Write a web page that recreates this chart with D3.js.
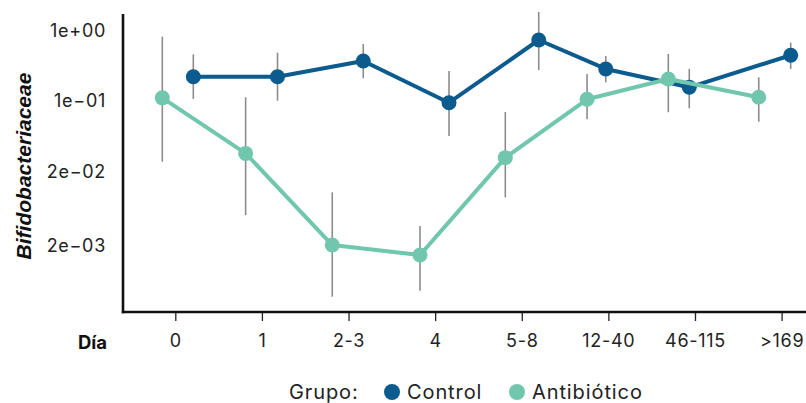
<!DOCTYPE html>
<html>
<head>
<meta charset="utf-8">
<script src="https://cdn.jsdelivr.net/npm/d3@7"></script>
<style>
  html, body { margin: 0; padding: 0; background: #fff; }
  svg { display: block; font-family: Inter, "Noto Sans", sans-serif; }
</style>
</head>
<body>
<svg id="chart" width="806" height="403"></svg>
<script>
// ---- data ----
const categories = ["0", "1", "2-3", "4", "5-8", "12-40", "46-115", ">169"];
const yTickValues = [1, 0.1, 0.02, 0.002];
const yTickLabels = ["1e+00", "1e\u221201", "2e\u221202", "2e\u221203"];

const controlMean  = [0.222, 0.222, 0.373, 0.0962, 0.744, 0.287, 0.157, 0.450];
const controlHigh  = [0.465, 0.490, 0.652, 0.268, 1.868, 0.439, 0.287, 0.681];
const controlLow   = [0.107, 0.101, 0.211, 0.0452, 0.277, 0.185, 0.0848, 0.287];
const controlJitter = [0.208, 0.18, 0.17, 0.16, 0.196, -0.03, -0.066, 0.105];

const antibMean  = [0.111, 0.0305, 0.00206, 0.00151, 0.0277, 0.1057, 0.206, 0.113];
const antibHigh  = [0.829, 0.113, 0.01063, 0.00373, 0.0779, 0.243, 0.469, 0.218];
const antibLow   = [0.02526, 0.00525, 0.000413, 0.000498, 0.0091, 0.0661, 0.0775, 0.0625];
const antibJitter = [-0.15, -0.188, -0.188, -0.175, -0.19, -0.246, -0.308, -0.264];

const groupNames = ["Control", "Antibiótico"];
const groupColors = ["#0b5b8e", "#70c7ad"];

// ---- layout ----
const svg = d3.select("#chart");
const axisLeftX = 123, axisBottomY = 312, axisTopY = 14;

const x = d3.scalePoint().domain(categories).range([175.3, 781.6]);
const step = x.step();
const y = d3.scaleLog().domain(yTickValues).range([31, 101, 172, 246]);

function series(mean, high, low, jit) {
  return categories.map((c, i) => ({
    cx: x(c) + jit[i] * step,
    m: mean[i], hi: high[i], lo: low[i]
  }));
}
const data = [
  series(controlMean, controlHigh, controlLow, controlJitter),
  series(antibMean, antibHigh, antibLow, antibJitter)
];

// x axis
const xAxis = d3.axisBottom(x).tickSize(9).tickSizeOuter(0).tickPadding(13);
const gx = svg.append("g").attr("transform", `translate(0,${axisBottomY})`).call(xAxis);
gx.select(".domain").remove();
gx.selectAll(".tick line").attr("stroke", "#222").attr("stroke-width", 1.3);
gx.selectAll(".tick text").attr("font-size", 18).attr("letter-spacing", "0.7px").attr("fill", "#222")
  .attr("font-family", "Inter, sans-serif");
svg.append("line").attr("x1", axisLeftX - 1.2).attr("x2", 806).attr("y1", axisBottomY).attr("y2", axisBottomY)
  .attr("stroke", "#111").attr("stroke-width", 2.6);

// y axis
const yAxis = d3.axisLeft(y).tickValues(yTickValues).tickSize(0).tickPadding(17)
  .tickFormat((d, i) => yTickLabels[i]);
const gy = svg.append("g").attr("transform", `translate(${axisLeftX},0)`).call(yAxis);
gy.select(".domain").remove();
gy.selectAll(".tick text").attr("font-size", 18).attr("letter-spacing", "0.7px").attr("fill", "#222")
  .attr("font-family", "Inter, sans-serif");
svg.append("line").attr("x1", axisLeftX).attr("x2", axisLeftX).attr("y1", axisTopY).attr("y2", axisBottomY + 1.3)
  .attr("stroke", "#111").attr("stroke-width", 2.6);

// axis titles
svg.append("text").attr("x", 107).attr("y", axisBottomY + 37).attr("text-anchor", "end")
  .attr("font-size", 18.5).attr("font-weight", 700).attr("fill", "#111")
  .attr("font-family", "Inter, sans-serif").text("Día");
svg.append("text").attr("transform", "translate(31,166) rotate(-90)").attr("text-anchor", "middle")
  .attr("font-size", 21).attr("font-weight", 700).attr("font-style", "italic").attr("fill", "#111")
  .attr("font-family", "'Liberation Sans', Arial, sans-serif").text("Bifidobacteriaceae");

// error bars
data.forEach((s) => {
  svg.append("g").selectAll("line").data(s).join("line")
    .attr("x1", d => d.cx).attr("x2", d => d.cx)
    .attr("y1", d => y(d.hi)).attr("y2", d => y(d.lo))
    .attr("stroke", "#8c8c8c").attr("stroke-width", 1.6);
});

// lines + points
const line = d3.line().x(d => d.cx).y(d => y(d.m));
[0, 1].forEach(gi => {
  svg.append("path").datum(data[gi]).attr("d", line)
    .attr("fill", "none").attr("stroke", groupColors[gi]).attr("stroke-width", 4)
    .attr("stroke-linejoin", "round");
  svg.append("g").selectAll("circle").data(data[gi]).join("circle")
    .attr("cx", d => d.cx).attr("cy", d => y(d.m)).attr("r", 7.5)
    .attr("fill", groupColors[gi]);
});

// legend
const lg = svg.append("g").attr("font-family", "Inter, sans-serif").attr("font-size", 20)
  .attr("letter-spacing", "0.9px").attr("fill", "#222");
lg.append("text").attr("x", 289).attr("y", 399).text("Grupo:");
const legendPos = [{cx: 392, tx: 407}, {cx: 517, tx: 532}];
groupNames.forEach((g, i) => {
  lg.append("circle").attr("cx", legendPos[i].cx).attr("cy", 392).attr("r", 8).attr("fill", groupColors[i]);
  lg.append("text").attr("x", legendPos[i].tx).attr("y", 399).text(g);
});
</script>
</body>
</html>
